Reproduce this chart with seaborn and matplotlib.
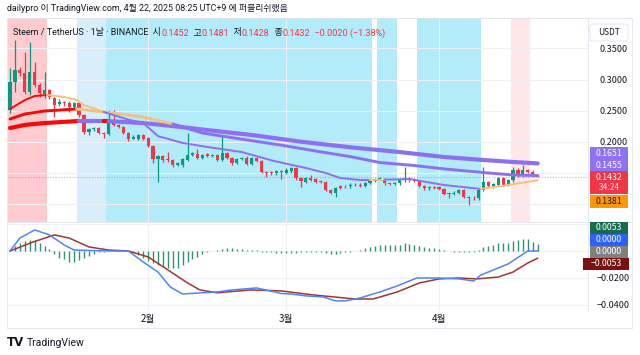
import numpy as np
import pandas as pd
import matplotlib
matplotlib.use("Agg")
import matplotlib.pyplot as plt
import seaborn as sns
from matplotlib.patches import Rectangle, FancyBboxPatch
from matplotlib.lines import Line2D

sns.set_theme(style="white")
plt.rcParams['font.family'] = ['Noto Sans CJK KR', 'DejaVu Sans']
plt.rcParams['axes.unicode_minus'] = False
LATIN = ['Roboto', 'Noto Sans CJK KR', 'DejaVu Sans']

# ---------------- data ----------------
dates = pd.date_range("2025-01-04", "2025-04-21", freq="D")

opens = [0.251, 0.296, 0.315, 0.310, 0.280, 0.312, 0.291, 0.276, 0.283, 0.270,
         0.260, 0.264, 0.262, 0.256, 0.262, 0.243, 0.216, 0.220, 0.222, 0.214,
         0.212, 0.235, 0.227, 0.224, 0.214, 0.205, 0.204, 0.211, 0.206, 0.193,
         0.172, 0.177, 0.172, 0.171, 0.163, 0.163, 0.171, 0.179, 0.181, 0.174,
         0.180, 0.177, 0.178, 0.171, 0.182, 0.174, 0.166, 0.172, 0.174, 0.164,
         0.174, 0.169, 0.151, 0.151, 0.149, 0.153, 0.150, 0.153, 0.158, 0.141,
         0.136, 0.142, 0.140, 0.137, 0.135, 0.122, 0.118, 0.129, 0.129, 0.128,
         0.130, 0.131, 0.129, 0.134, 0.137, 0.140, 0.140, 0.133, 0.132, 0.134,
         0.138, 0.141, 0.139, 0.137, 0.129, 0.125, 0.127, 0.127, 0.124, 0.117,
         0.116, 0.118, 0.122, 0.111, 0.110, 0.109, 0.122, 0.135, 0.129, 0.131,
         0.141, 0.131, 0.138, 0.1545, 0.146, 0.154, 0.152, 0.1452]
highs = [0.318, 0.363, 0.320, 0.344, 0.360, 0.328, 0.295, 0.312, 0.285, 0.272,
         0.268, 0.266, 0.266, 0.264, 0.266, 0.245, 0.222, 0.224, 0.224, 0.215,
         0.251, 0.251, 0.229, 0.226, 0.216, 0.210, 0.213, 0.213, 0.208, 0.194,
         0.179, 0.179, 0.183, 0.172, 0.167, 0.174, 0.214, 0.184, 0.188, 0.181,
         0.182, 0.180, 0.180, 0.209, 0.184, 0.176, 0.174, 0.176, 0.177, 0.176,
         0.176, 0.171, 0.153, 0.153, 0.155, 0.154, 0.157, 0.160, 0.160, 0.143,
         0.144, 0.146, 0.142, 0.138, 0.137, 0.124, 0.127, 0.130, 0.131, 0.133,
         0.133, 0.133, 0.135, 0.139, 0.141, 0.143, 0.142, 0.134, 0.136, 0.140,
         0.159, 0.143, 0.141, 0.139, 0.130, 0.129, 0.128, 0.128, 0.126, 0.118,
         0.120, 0.124, 0.124, 0.112, 0.113, 0.124, 0.159, 0.137, 0.133, 0.143,
         0.143, 0.140, 0.159, 0.157, 0.162, 0.156, 0.154, 0.1481]
lows = [0.246, 0.280, 0.305, 0.276, 0.275, 0.288, 0.272, 0.270, 0.268, 0.240,
        0.257, 0.257, 0.248, 0.254, 0.240, 0.213, 0.211, 0.218, 0.212, 0.206,
        0.210, 0.225, 0.222, 0.212, 0.201, 0.204, 0.202, 0.202, 0.191, 0.166,
        0.135, 0.168, 0.167, 0.160, 0.161, 0.160, 0.169, 0.177, 0.172, 0.172,
        0.175, 0.175, 0.169, 0.169, 0.172, 0.163, 0.164, 0.170, 0.162, 0.162,
        0.167, 0.149, 0.143, 0.147, 0.147, 0.140, 0.148, 0.150, 0.139, 0.127,
        0.134, 0.137, 0.134, 0.133, 0.120, 0.116, 0.111, 0.124, 0.126, 0.126,
        0.129, 0.127, 0.127, 0.132, 0.135, 0.138, 0.131, 0.130, 0.131, 0.130,
        0.136, 0.136, 0.135, 0.127, 0.123, 0.123, 0.124, 0.122, 0.114, 0.110,
        0.114, 0.116, 0.109, 0.098, 0.106, 0.1055, 0.120, 0.127, 0.126, 0.129,
        0.129, 0.129, 0.136, 0.144, 0.144, 0.150, 0.143, 0.1428]
closes = [0.296, 0.315, 0.310, 0.280, 0.312, 0.291, 0.278, 0.283, 0.272, 0.259,
          0.264, 0.262, 0.256, 0.262, 0.243, 0.216, 0.220, 0.222, 0.214, 0.212,
          0.233, 0.227, 0.224, 0.214, 0.204, 0.208, 0.211, 0.204, 0.193, 0.172,
          0.177, 0.171, 0.171, 0.163, 0.166, 0.172, 0.179, 0.182, 0.174, 0.179,
          0.177, 0.178, 0.171, 0.182, 0.174, 0.166, 0.172, 0.174, 0.164, 0.174,
          0.169, 0.151, 0.150, 0.149, 0.153, 0.151, 0.155, 0.158, 0.141, 0.137,
          0.142, 0.139, 0.136, 0.135, 0.122, 0.118, 0.125, 0.126, 0.128, 0.131,
          0.131, 0.129, 0.134, 0.137, 0.140, 0.141, 0.133, 0.132, 0.134, 0.138,
          0.141, 0.138, 0.137, 0.129, 0.125, 0.127, 0.126, 0.124, 0.116, 0.116,
          0.118, 0.122, 0.111, 0.109, 0.109, 0.122, 0.135, 0.129, 0.132, 0.141,
          0.131, 0.138, 0.1545, 0.146, 0.154, 0.152, 0.1452, 0.1432]

# moving averages (read at sample candles)
slow_x = [0, 3, 7, 14, 19, 20, 27, 33, 39, 49, 59, 69, 79, 88, 96, 102, 107]
slow_y = [0.2220, 0.2270, 0.2300, 0.2333, 0.2333, 0.2330, 0.2300, 0.2252, 0.2196,
          0.2108, 0.2000, 0.1910, 0.1834, 0.1754, 0.1706, 0.1674, 0.1651]
slow_state = ['bear', 'bear', 'bear', 'bull', 'bear', 'bull', 'bull', 'bull', 'bull',
              'bull', 'bull', 'bull', 'bull', 'bull', 'bull', 'bull']

mid_x = [0, 3, 7, 13.5, 19, 27, 33, 39, 45, 49, 55, 62, 69, 75, 82, 88, 97, 102, 107]
mid_y = [0.2365, 0.2445, 0.2494, 0.2526, 0.2478, 0.2397, 0.2285, 0.2140, 0.2066,
         0.2016, 0.1945, 0.1850, 0.1760, 0.1665, 0.1617, 0.1563, 0.1497, 0.1465, 0.1455]
mid_state = ['bear', 'bear', 'bear', 'weak', 'weak', 'weak', 'bull', 'bull', 'bull',
             'bull', 'bull', 'bull', 'bull', 'bull', 'bull', 'bull', 'bull', 'bull']

fast_x = [0, 3, 5, 7.5, 11, 13.5, 15, 19, 24, 27, 30, 35, 40, 47, 53.5, 60, 64, 67,
          71, 73, 76, 81, 88, 95.5, 101, 107]
fast_y = [0.2526, 0.2670, 0.2735, 0.2751, 0.2719, 0.2670, 0.2590, 0.2478, 0.2355,
          0.2300, 0.2090, 0.1980, 0.1915, 0.1834, 0.1690, 0.1577, 0.1497, 0.1416,
          0.1384, 0.1384, 0.1390, 0.1400, 0.1304, 0.1240, 0.1304, 0.1381]
fast_state = ['bear', 'bear', 'bear', 'weak', 'weak', 'weak', 'weak', 'bull', 'bull',
              'bull', 'bull', 'bull', 'bull', 'bull', 'bull', 'bull', 'bull', 'bull',
              'bull', 'weak', 'bull', 'bull', 'bull', 'weak', 'weak']

# background regimes (candle index ranges)
band_start = [0, 14, 20, 75, 83, 102]
band_end = [7, 19, 73, 78, 95, 105]
band_kind = ['bear', 'weak', 'bull', 'bull', 'bull', 'warn']

# MACD
macd_x = [0, 2, 5, 8, 11, 13, 20, 24, 27, 30, 32.5, 35, 38.5, 42, 45, 50, 55, 57, 60,
          63.5, 66, 68, 71, 75, 78.5, 82.5, 87, 91, 94, 95.5, 101, 105, 107]
macd_y = [0.0, 0.0096, 0.0156, 0.0119, 0.0044, 0.0007, 0.0, 0.0, -0.0081, -0.0156,
          -0.0267, -0.0319, -0.0311, -0.0304, -0.0289, -0.0274, -0.0315, -0.0319,
          -0.0333, -0.0341, -0.0370, -0.0370, -0.0348, -0.0304, -0.0259, -0.0200,
          -0.0200, -0.0207, -0.0222, -0.0178, -0.0096, 0.0, 0.0]
signal_x = [0, 4.7, 9, 12, 16, 20, 24, 28, 32, 36, 38.5, 42, 48.7, 55, 61.5, 70, 73.6,
            78.5, 83, 87, 91, 94.7, 99, 102, 105, 107]
signal_y = [0.0, 0.0067, 0.0119, 0.0096, 0.0030, 0.0007, 0.0, -0.0044, -0.0140,
            -0.0237, -0.0289, -0.0310, -0.0289, -0.0296, -0.0326, -0.0356, -0.0356,
            -0.0304, -0.0237, -0.0207, -0.0200, -0.0207, -0.0193, -0.0156, -0.0089,
            -0.0053]
hist = [0.001, 0.004, 0.006, 0.0074, 0.008, 0.0085, 0.006, 0.004, 0.0015,
        -0.0025, -0.0049, -0.0062, -0.0079, -0.0079, -0.0067, -0.0049, -0.0035,
        -0.0022, -0.001, -0.0005,
        0, 0, 0, 0, 0,
        -0.001, -0.003, -0.0054, -0.0074, -0.0091, -0.0104, -0.0116, -0.0128,
        -0.0128, -0.0123, -0.0104, -0.0079, -0.0059, -0.0042, -0.0025, -0.001, 0,
        0.0005, 0.0015, 0.002, 0.002, 0.0015, 0.0015, 0.001, 0.001, 0.0007,
        -0.0005, -0.001, -0.001, -0.0015, -0.0017,
        -0.0017, -0.0017, -0.0012, -0.001, -0.001, -0.001, -0.001, -0.001, -0.0017,
        -0.0025, -0.0025, -0.0017, -0.001, -0.0005, 0, 0.0005, 0.002, 0.0032,
        0.004, 0.0044, 0.0044, 0.0044, 0.0044, 0.0044, 0.0057, 0.0052, 0.0044,
        0.004, 0.0032, 0.0025, 0.002, 0.0015, 0.0007, 0, -0.0005, -0.0005,
        -0.0008, -0.001, -0.001, 0.0005, 0.0027, 0.0037, 0.0044, 0.0057, 0.0062,
        0.0062, 0.0074, 0.0082, 0.0089, 0.0089, 0.0069, 0.0053]

price_ticks = [0.10, 0.15, 0.20, 0.25, 0.30, 0.35]
macd_ticks = [0.02, 0.0, -0.02, -0.04]

# ---------------- styling ----------------
DARK = '#131722'
UP, DOWN = '#089981', '#f23645'
band_color = {'bear': '#ffcbce', 'weak': '#d8eefa', 'bull': '#b2ebf9', 'warn': '#ffe6e9'}
line_color = {'bear': '#f80808', 'weak': '#f2c27c', 'bull': '#8d70f2'}

W, H = 640, 355
fig = plt.figure(figsize=(6.4, 3.55), dpi=100)
fig.patch.set_facecolor('white')


def fx(px):
    return px / W


def fy(py):
    return 1 - py / H


ax_p = fig.add_axes([fx(8), fy(222), fx(588) - fx(8), fy(18) - fy(222)])
ax_m = fig.add_axes([fx(8), fy(311), fx(588) - fx(8), fy(222) - fy(311)], sharex=ax_p)

idx = np.arange(len(dates))
XL = (-0.41, 117.2)

# bands
for s, e, k in zip(band_start, band_end, band_kind):
    ax_p.axvspan(s - 0.5, e + 0.5, color=band_color[k], lw=0, zorder=0.2)

# candles
o, h, l, c = map(np.array, (opens, highs, lows, closes))
col = np.where(c >= o, UP, DOWN)
ax_p.vlines(idx, l, h, colors=col, lw=0.9, zorder=3)
ax_p.bar(idx, np.maximum(np.abs(c - o), 0.0011), bottom=np.minimum(o, c), width=0.64,
         color=col, linewidth=0, zorder=4)

# price line
ax_p.axhline(closes[-1], color=DOWN, lw=0.8, ls=(0, (1, 1.5)), alpha=0.45, zorder=2)


def seg_line(ax, xs, ys, states, lw, z):
    k = 0
    n = len(states)
    while k < n:
        m = k
        while m + 1 < n and states[m + 1] == states[k]:
            m += 1
        sns.lineplot(x=xs[k:m + 2], y=ys[k:m + 2], ax=ax, color=line_color[states[k]],
                     lw=lw, zorder=z, solid_capstyle='round', legend=False)
        k = m + 1


seg_line(ax_p, slow_x, slow_y, slow_state, 3.0, 5)
seg_line(ax_p, mid_x, mid_y, mid_state, 2.1, 6)
seg_line(ax_p, fast_x, fast_y, fast_state, 1.4, 7)

ax_p.set_xlim(*XL)
ax_p.set_ylim(0.0709, 0.3989)
ax_p.set_yticks(price_ticks)
ax_p.set_yticklabels([f"{v:.4f}" if v >= 0.2 else '' for v in price_ticks])
ax_p.yaxis.tick_right()
ax_p.tick_params(axis='y', length=0, pad=8, labelsize=6.5, labelcolor=DARK)
ax_p.tick_params(axis='x', length=0, labelbottom=False)

# MACD pane
ax_m.vlines(idx, 0, hist, colors='#2f8f78', lw=1.0, zorder=3)
sns.lineplot(x=macd_x, y=macd_y, ax=ax_m, color='#4f83ff', lw=1.1, zorder=5, legend=False)
sns.lineplot(x=signal_x, y=signal_y, ax=ax_m, color='#a3352f', lw=1.1, zorder=4, legend=False)
ax_m.set_ylim(-0.0445, 0.0215)
ax_m.set_yticks(macd_ticks)
ax_m.set_yticklabels([f"{v:.4f}".replace('-', '\u2212') if v < -0.01 else '' for v in macd_ticks])
ax_m.yaxis.tick_right()
ax_m.tick_params(axis='y', length=0, pad=6, labelsize=6.5, labelcolor=DARK)

month_idx = np.where(dates.day == 1)[0]
ax_m.set_xticks(month_idx)
ax_m.set_xticklabels([f"{dates[i].month}월" for i in month_idx], fontweight='medium')
ax_m.tick_params(axis='x', length=0, pad=2.5, labelsize=7, labelcolor=DARK)
ax_p.set_xticks(month_idx)

for ax in (ax_p, ax_m):
    ax.set_xlabel('')
    ax.set_ylabel('')
    ax.set_facecolor('none')
    for sp in ax.spines.values():
        sp.set_visible(False)
    ax.set_axisbelow(True)
    ax.grid(True, color='#eef0f6', lw=0.8)
ax_p.set_xlim(*XL)

# frame lines
frame_c = '#e0e3eb'
for (x0, y0, x1, y1) in [(7, 18, 632, 18), (7, 328, 632, 328), (7, 18, 7, 328),
                         (632, 18, 632, 328), (7, 222, 632, 222), (588, 18, 588, 311)]:
    fig.add_artist(Line2D([fx(x0), fx(x1)], [fy(y0), fy(y1)], color=frame_c, lw=0.6,
                          transform=fig.transFigure))


# axis value boxes
def vbox(yc, txt, fc, tc, x0=590, x1=628, hgt=12, sub=None):
    fig.add_artist(Rectangle((fx(x0), fy(yc + hgt / 2)), fx(x1) - fx(x0), hgt / H,
                             transform=fig.transFigure, fc=fc, ec='none', zorder=10))
    if sub is None:
        fig.text(fx((x0 + x1) / 2), fy(yc), txt, ha='center', va='center', color=tc,
                 fontsize=6.3, zorder=11)
    else:
        fig.text(fx((x0 + x1) / 2), fy(yc - 5.5), txt, ha='center', va='center', color=tc,
                 fontsize=6.3, zorder=11)
        fig.text(fx((x0 + x1) / 2), fy(yc + 5.5), sub, ha='center', va='center', color=tc,
                 fontsize=6.0, alpha=0.85, zorder=11)


vbox(153, f"{slow_y[-1]:.4f}", '#8d72f6', 'white')
vbox(165, f"{mid_y[-1]:.4f}", '#8d72f6', 'white')
vbox(182.5, f"{closes[-1]:.4f}", '#f23645', 'white', hgt=23, sub='34:24')
vbox(201, f"{fast_y[-1]:.4f}", '#ff9800', DARK, hgt=13)
vbox(228, f"{hist[-1]:.4f}", '#176b4f', 'white')
vbox(240, f"{macd_y[-1]:.4f}", '#2962ff', 'white')
vbox(252, "0.0000", '#808080', 'white')
vbox(263.5, f"{signal_y[-1]:.4f}".replace('-', '\u2212'), '#7b1010', 'white', x0=583, x1=629)

# USDT box
fig.add_artist(FancyBboxPatch((fx(590), fy(41)), fx(628) - fx(590), 17 / H,
                              boxstyle='round,pad=0,rounding_size=0.006',
                              transform=fig.transFigure, fc='white', ec='#e0e3eb', lw=0.6))
fig.text(fx(609), fy(32.5), 'USDT', ha='center', va='center', fontsize=6, color=DARK)

# header
fig.text(fx(7), fy(8.5), 'dailypro 이 TradingView.com, 4월 22, 2025 08:25 UTC+9 에 퍼블리쉬했음',
         ha='left', va='center', fontsize=6.4, color=DARK, family=LATIN)

# legend line
parts = [("Steem / TetherUS · 1날 · BINANCE", DARK), ("  시", DARK),
         (f"{opens[-1]:.4f}", DOWN), ("  고", DARK), (f"{highs[-1]:.4f}", DOWN),
         ("  저", DARK), (f"{lows[-1]:.4f}", DOWN), ("  종", DARK),
         (f"{closes[-1]:.4f}", DOWN), ("  \u22120.0020 (\u22121.38%)", DOWN)]
t = ax_p.annotate(parts[0][0], xy=(fx(13), fy(33)), xycoords='figure fraction',
                  va='center', ha='left', fontsize=6.5, color=parts[0][1], zorder=12,
                  family=LATIN)
for s, cc in parts[1:]:
    t = ax_p.annotate(s, xy=(1, 0), xycoords=t, va='bottom', ha='left', fontsize=6.5,
                      color=cc, zorder=12, family=LATIN)

# footer
fig.text(fx(7), fy(343), 'TV', ha='left', va='center', fontsize=8.5, fontweight='heavy',
         family='DejaVu Sans', color=DARK)
fig.text(fx(27), fy(343), 'TradingView', ha='left', va='center', fontsize=7.5, color=DARK,
         family=LATIN)

fig.savefig('out.png', dpi=100, facecolor='white')
